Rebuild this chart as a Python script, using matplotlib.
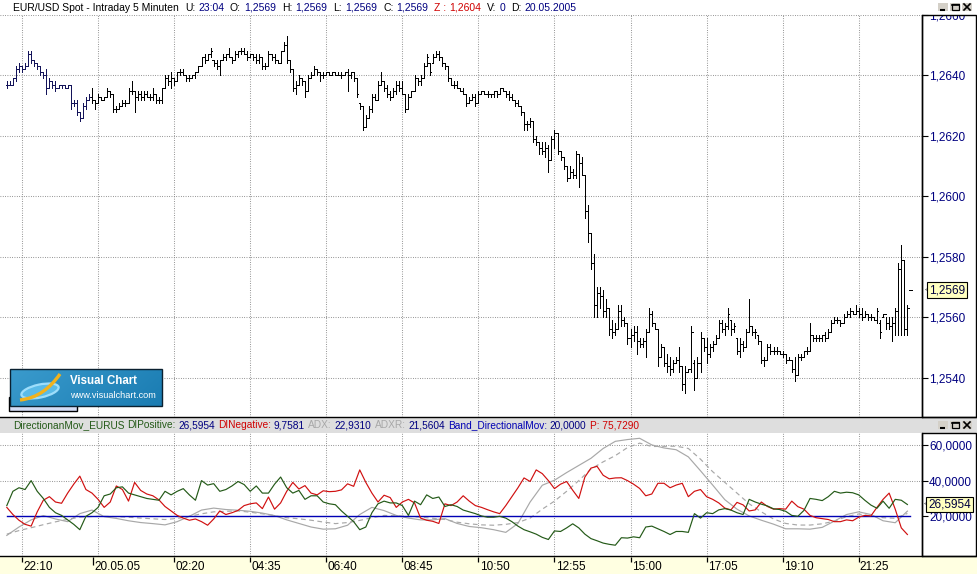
import matplotlib
matplotlib.use('Agg')
import matplotlib.pyplot as plt
import numpy as np
from matplotlib.collections import LineCollection
from matplotlib.patches import Rectangle, Ellipse, PathPatch
from matplotlib.path import Path
import matplotlib.transforms as mtrans

plt.rcParams['font.family'] = ['Liberation Sans', 'DejaVu Sans']

# ---------------- data (prices in pips above 1.2500) ----------------
opens = [137,137,137,139,142,143,142,143,147,145,
 144,143,141,140,136,138,137,136,137,137,
 136,137,131,131,128,126,130,132,133,132,
 131,133,132,133,135,134,129,129,130,131,
 131,135,135,133,134,133,134,133,133,134,
 132,132,136,139,138,139,138,141,141,140,
 139,139,140,141,143,146,145,147,145,144,
 143,145,146,147,146,145,147,148,148,147,
 146,147,146,145,146,143,143,147,146,145,
 144,148,150,145,142,136,137,139,138,135,
 139,140,142,141,140,140,141,140,141,140,
 140,140,141,140,141,139,131,130,123,126,
 129,133,132,137,138,136,134,133,135,137,
 136,134,129,133,135,139,138,139,143,144,
 144,146,147,146,144,143,139,137,137,136,
 135,134,131,132,133,131,134,135,134,134,
 134,135,134,136,135,134,133,132,131,130,
 128,124,124,125,119,118,116,115,116,112,
 119,121,115,113,110,106,108,107,114,111,
 107,95,88,78,64,68,67,62,63,56,
 55,56,62,59,58,53,54,55,52,51,
 52,55,61,58,56,47,50,45,44,43,
 45,46,44,38,42,43,45,40,45,53,
 50,48,50,51,53,58,56,57,59,56,
 53,49,51,50,55,57,55,54,52,46,
 46,50,49,49,49,48,48,46,46,43,
 41,47,47,49,49,54,53,53,53,54,
 53,55,58,59,59,58,60,61,62,61,
 62,61,60,61,60,60,59,58,60,61,
 58,57,58,62,76,79,56,69]
highs = [138,138,139,143,144,143,144,148,148,145,
 144,143,141,142,139,138,138,137,137,137,
 137,137,132,132,128,131,133,134,136,132,
 134,133,133,136,135,134,130,131,132,132,
 136,138,135,135,135,135,135,134,136,134,
 133,136,140,140,141,139,141,142,142,140,
 140,140,141,143,146,147,147,149,145,145,
 145,147,147,149,146,148,148,149,149,148,
 147,147,147,147,146,144,148,147,147,145,
 148,151,153,145,142,138,140,139,138,140,
 141,143,142,141,141,141,141,141,141,141,
 141,141,142,141,141,139,131,130,127,130,
 134,134,138,141,138,137,135,136,138,138,
 138,134,134,135,140,139,140,144,147,144,
 147,148,148,146,144,143,139,138,138,136,
 136,134,133,134,134,135,135,135,135,134,
 135,135,136,136,135,135,134,132,132,130,
 128,125,126,125,120,118,118,118,117,120,
 122,121,115,113,110,110,109,115,114,113,
 107,97,88,81,70,70,69,66,63,59,
 58,64,64,60,58,56,57,57,53,53,
 56,63,62,58,56,51,50,48,47,46,
 47,50,44,44,43,57,46,47,55,53,
 53,51,52,54,59,59,58,63,59,58,
 53,53,52,56,66,57,56,54,52,47,
 51,51,50,50,49,49,48,47,46,47,
 48,48,49,50,58,54,54,54,54,55,
 56,59,60,60,59,61,62,63,62,64,
 63,63,62,61,61,60,63,59,61,60,
 60,60,63,78,84,79,64,69]
lows = [136,137,137,138,141,141,142,143,144,143,
 142,140,139,134,136,136,135,136,136,136,
 136,129,130,127,125,126,129,132,131,129,
 131,132,132,133,133,128,128,129,130,130,
 131,134,128,132,132,132,133,132,132,131,
 131,131,136,137,136,137,138,140,140,138,
 138,139,139,141,143,144,145,146,143,142,
 140,145,145,146,144,145,146,147,147,145,
 146,145,144,144,142,142,143,145,144,144,
 144,148,144,141,135,134,137,137,133,135,
 139,140,140,138,139,140,140,140,140,140,
 139,140,135,139,138,133,129,122,123,126,
 128,132,132,137,135,133,132,133,134,135,
 134,128,129,133,135,137,137,139,143,140,
 144,146,145,143,142,138,137,136,136,135,
 134,130,131,132,130,131,134,134,133,133,
 133,133,134,135,133,132,132,130,130,127,
 122,122,123,118,117,114,114,113,108,112,
 116,114,112,109,105,106,106,106,103,107,
 93,85,76,60,60,63,60,60,54,53,
 54,56,57,57,51,50,52,48,50,50,
 47,55,57,56,44,47,44,42,41,42,
 45,42,36,35,42,42,36,40,42,49,
 45,47,49,51,53,55,54,56,54,55,
 48,47,49,50,55,54,53,51,45,44,
 46,48,48,48,48,47,45,46,42,39,
 41,46,47,48,49,52,52,52,52,52,
 53,55,58,58,57,58,60,60,61,61,
 60,59,60,59,59,59,58,53,60,56,
 56,52,54,54,54,54,54,69]
closes = [137,137,139,142,143,142,143,147,145,144,
 143,141,140,136,138,137,136,137,137,136,
 137,131,131,128,126,130,132,133,132,131,
 133,132,133,135,134,129,129,130,131,131,
 135,135,133,134,133,134,133,133,134,132,
 132,136,139,138,139,138,141,141,140,139,
 139,140,141,143,146,145,147,148,144,143,
 145,146,147,146,145,147,148,148,147,146,
 147,146,145,146,143,143,147,146,145,144,
 148,150,145,142,136,137,139,138,135,139,
 140,142,141,140,140,141,140,141,140,140,
 140,141,140,141,139,134,130,123,126,129,
 133,132,137,138,136,134,133,135,137,136,
 134,129,133,135,139,138,139,143,146,141,
 146,147,146,144,143,139,137,137,136,135,
 134,131,132,133,131,134,135,134,134,134,
 135,134,136,135,134,133,132,131,130,128,
 124,124,125,119,118,116,115,116,112,119,
 121,115,113,110,106,108,107,114,111,107,
 95,88,78,64,68,67,62,63,56,55,
 56,62,59,58,53,54,55,52,51,52,
 55,61,58,56,47,50,45,44,43,45,
 46,44,38,42,43,55,40,45,53,50,
 48,50,51,53,58,56,57,61,56,57,
 49,51,50,55,57,55,55,52,46,46,
 50,49,49,49,48,48,46,46,43,41,
 47,47,49,49,54,53,53,53,54,53,
 55,58,59,59,58,60,61,62,61,62,
 61,60,61,60,60,59,62,55,61,58,
 57,58,62,76,79,56,63,69]

# indicator values (DI every 2nd bar, ADX/ADXR every 4th bar)
di_pos = [26,34,36,35,40,34,30,25,22,20.5,
 18,15.5,12.5,20,22,25,31.5,32.5,36,36.5,
 33,32,31,30,29.5,29,34,32,34,35.5,
 32,29,40,37.5,38.3,34,35,37,39.5,37.8,
 34,37,33,33,38,42,36,33,34.5,29.5,
 31.5,31.5,28,27,26.5,23,20,17,12.5,14,
 22,27,28.5,27.5,27.5,26,20.5,28.5,26.5,32,
 30,30.8,25.5,26.5,25.5,23.5,22.5,21.5,20.2,19.5,
 19.5,20,19,17,14.5,12.5,11.3,10,8.2,7,
 11.8,11.5,13.5,15.8,13.5,10,7.5,6.3,5,4.3,
 3.8,8,7.8,8.5,8,14,14.5,13,11.5,9.8,
 11.5,11.5,11,21.5,19,22,21.5,23.6,24.3,23.5,
 22,21,29.5,28,26.8,25.8,24.2,23.8,22.8,20.5,
 20,23.3,30,29.5,28.8,31,34,33,33.5,33.2,
 32,29,26.3,24.5,28.5,24.5,29.5,29,26.6]
di_neg = [25,21,17.8,15.5,14.5,22.5,29,31,28,27.3,
 33,38,42.5,35,33,29.5,25,28,37,35,
 28.5,39,34.5,32.5,31.5,29.2,25.5,23,20.5,19,
 17.8,18.5,17,15,18.5,23,21,22,23.3,26,
 27,27.5,24.3,30.8,24,27.5,34,39,35.3,37.2,
 33,32,34.3,33.8,34,34.8,38.2,36.8,46,39,
 33,28,31.8,30.5,25,28,29.5,27.5,19,17.8,
 17.2,16,27,26,28,31.5,28.5,26,25,23.7,
 22.5,21.5,26,31,36,41.5,39.5,46,43.9,40,
 35.5,38,39.5,34.6,30,42,47,48,43,41,
 41.5,41.6,40,38,35.6,31.5,32.5,38.5,38.5,36,
 37.5,38.5,31,34,35,31,29.5,27.5,24.6,23.6,
 27.8,26.4,23,23.6,28,25.5,24,24.3,24,28.5,
 25.4,24,20.5,19.2,18.7,18.2,17,17,18,17.5,
 19.5,20.5,20.2,25,29.5,33,24,13.5,9.8]
adx = [9.3,14,18,20.4,18.5,17,21.5,23.5,19.8,18.8,
 17.5,16.5,15.9,15.2,17,20,23.5,24.6,23.8,23.4,
 22.8,21.8,20.4,18,16,14,12.8,13,15,21,
 25,23.2,20.5,19,18,18,18.7,16,14.3,13.6,
 12.5,11,16,28,37.4,40.2,44.5,48.5,52.5,58,
 62,63,63.7,60,58.3,57.3,53.3,45.5,37.5,29.3,
 24,20.2,17.8,15.6,13,13,12.8,13.8,17.3,21,
 22.5,21,17.5,16.4,22.9]
adxr = [10,12,13.6,15.3,16.9,18.3,19.5,19.9,20,19.8,
 19.5,19,18.6,18.2,18.8,20,21.4,22.5,22.8,23,
 22.3,21.4,20.4,19.2,18.6,17.8,16.8,15.9,16.5,17.7,
 19.2,20.5,20.3,20,19.5,18.9,18.2,16.7,15.8,15.2,
 15,15.5,16.5,19,24,28.5,34,40,46.5,50.5,
 54,58.5,61,59.1,59.2,59.3,58,52,45,39,
 33,27,22.5,18.5,16,15.1,15.1,15.8,17.3,19.8,
 21.3,20.2,19.2,18.9,21.6]
band_level = 20.0

time_labels = ['22:10', '20.05.05', '02:20', '04:35', '06:40', '08:45',
               '10:50', '12:55', '15:00', '17:05', '19:10', '21:25']
time_label_bars = [5, 28.3, 55, 80, 105, 130, 155, 180, 205, 230, 255, 280]
grid_bars = [5, 30, 55, 80, 105, 130, 155, 180, 205, 230, 255, 280]
price_ticks = [1.2540, 1.2560, 1.2580, 1.2600, 1.2620, 1.2640, 1.2660]
ind_ticks = [20, 40, 60]
day_start_bar = 28
last_price = 1.2569
last_dip = 26.5954

# ---------------- figure layout ----------------
W, H = 978, 574
fig = plt.figure(figsize=(W / 100, H / 100), dpi=100)
fig.patch.set_facecolor('white')

bg = fig.add_axes([0, 0, 1, 1], zorder=0)
bg.set_xlim(0, W); bg.set_ylim(H, 0); bg.axis('off')
fg = fig.add_axes([0, 0, 1, 1], zorder=10)
fg.set_xlim(0, W); fg.set_ylim(H, 0); fg.axis('off'); fg.patch.set_alpha(0)


def fbox(l, t, r, b):
    return [l / W, 1 - b / H, (r - l) / W, (b - t) / H]


ax = fig.add_axes(fbox(0, 15, 922, 417), zorder=2)
ax2 = fig.add_axes(fbox(0, 433, 922, 556), zorder=2)

NAVY = '#000080'
GRID = '#808080'
DOT = (0, (0.75, 1.5))
XL = (-2.235, 300.8)
PX = 0.72  # one pixel in points

# background decorations
bg.add_patch(Rectangle((0, 417.5), W, 15.5, facecolor='#dedede', edgecolor='none'))
bg.add_patch(Rectangle((0, 556.5), W, 18, facecolor='#ffffe1', edgecolor='none'))
for (l, t, r, b) in [(922, 15, 976, 417), (922, 433, 976, 556)]:
    bg.add_patch(Rectangle((l, t), r - l, b - t, facecolor='white',
                           edgecolor='black', lw=1.0))
bg.plot([0, 976], [417, 417], color='black', lw=1.0)
bg.plot([0, 976], [556, 556], color='black', lw=1.0)

for a in (ax, ax2):
    a.set_facecolor('none')
    for s in ('top', 'left', 'bottom'):
        a.spines[s].set_visible(False)
    a.spines['right'].set_color('black')
    a.spines['right'].set_linewidth(1.0)
    a.set_xlim(*XL)
    a.set_xticks([])
    a.yaxis.tick_right()
    a.tick_params(axis='y', direction='out', length=4, width=0.8,
                  colors='black', labelcolor=NAVY, labelsize=8.5, pad=1)
    for gb in grid_bars:
        a.axvline(gb, color=GRID, lw=0.75, linestyle=DOT, zorder=1)

# ---------------- price pane ----------------
p_low = 1.25 + 27.0 / 10000
p_high = 1.25 + 159.7 / 10000
ax.set_ylim(p_low, p_high)
ax.set_yticks(price_ticks)
ax.set_yticklabels([('%.4f' % v).replace('.', ',') for v in price_ticks])
for v in price_ticks:
    ax.axhline(v, color=GRID, lw=0.75, linestyle=DOT, zorder=1)
# the top label is cut by the frame of the axis box
clip_bb = mtrans.Bbox.from_extents(922, H - 417, 976, H - 15.5)
for lab in ax.get_yticklabels():
    lab.set_clip_box(clip_bb)
    lab.set_clip_on(True)

O = 1.25 + np.array(opens) / 10000.0
Hh = 1.25 + np.array(highs) / 10000.0
L = 1.25 + np.array(lows) / 10000.0
C = 1.25 + np.array(closes) / 10000.0
N = len(C)
tk = 0.4
segs, cols = [], []
for i in range(N):
    col = '#14145a' if i < day_start_bar else 'black'
    if Hh[i] > L[i]:
        segs.append([(i, L[i]), (i, Hh[i])]); cols.append(col)
    segs.append([(i - tk, O[i]), (i, O[i])]); cols.append(col)
    segs.append([(i, C[i]), (i + tk, C[i])]); cols.append(col)
ax.add_collection(LineCollection(segs, colors=cols, linewidths=PX,
                                 antialiased=False, zorder=3))

ax.text(929 / 922, last_price, ('%.4f' % last_price).replace('.', ','),
        transform=mtrans.blended_transform_factory(ax.transAxes, ax.transData),
        fontsize=8.5, color='#000040', va='center', ha='left', zorder=5,
        bbox=dict(boxstyle='square,pad=0.15', facecolor='#ffffc0',
                  edgecolor='black', lw=0.8), clip_on=False)
ax.text(924.5 / 922, last_price, '<', fontsize=5.5, color='#404040',
        transform=mtrans.blended_transform_factory(ax.transAxes, ax.transData),
        va='center', ha='left', clip_on=False)

# ---------------- indicator pane ----------------
ax2.set_ylim(-2.24, 66.67)
ax2.set_yticks(ind_ticks)
ax2.set_yticklabels([('%.4f' % v).replace('.', ',') for v in ind_ticks])
for v in ind_ticks[1:]:
    ax2.axhline(v, color=GRID, lw=0.75, linestyle=DOT, zorder=1)

x_di = np.arange(0, N, 2)[:len(di_pos)]
x_ad = np.arange(0, N, 4)[:len(adx)]
ax2.plot(x_ad, adx, color='#a8a8a8', lw=0.85, zorder=3)
ax2.plot(x_ad, adxr, color='#a8a8a8', lw=0.85, linestyle=(0, (4, 3)), zorder=3)
ax2.plot([0, N - 1], [band_level, band_level], color='#0000b4', lw=1.0, zorder=4)
ax2.plot(x_di, di_neg, color='#d01010', lw=0.85, zorder=5)
ax2.plot(x_di, di_pos, color='#245a18', lw=0.85, zorder=6)

ax2.text(928 / 922, last_dip, ('%.4f' % last_dip).replace('.', ','),
         transform=mtrans.blended_transform_factory(ax2.transAxes, ax2.transData),
         fontsize=8.5, color='#000040', va='center', ha='left', zorder=7,
         bbox=dict(boxstyle='square,pad=0.15', facecolor='#ffffc0',
                   edgecolor='black', lw=0.8), clip_on=False)
ax2.text(924 / 922, last_dip, '<', fontsize=5.5, color='#404040',
         transform=mtrans.blended_transform_factory(ax2.transAxes, ax2.transData),
         va='center', ha='left', clip_on=False)

# x-axis ticks in the bottom band
tb = mtrans.blended_transform_factory(ax2.transData, bg.transData)
for lab, b in zip(time_labels, time_label_bars):
    tall = '.' in lab
    bg.plot([b, b], [556.5, 565 if tall else 561.5], color='black', lw=0.9,
            transform=tb, solid_capstyle='butt')
    bg.text(b + 0.4, 567, lab, transform=tb, fontsize=8.5, color='black',
            ha='left', va='center')

# ---------------- header texts ----------------
renderer = fig.canvas.get_renderer()


def write_pieces(x, y, pieces, size):
    for s, c, gap in pieces:
        t = fg.text(x, y, s, color=c, fontsize=size, va='center', ha='left')
        bb = t.get_window_extent(renderer=renderer)
        x += bb.width + gap


BLK = 'black'
RED = '#d00000'
write_pieces(13, 8, [
    ('EUR/USD Spot - Intraday 5 Minuten', BLK, 6), ('U:', BLK, 3), ('23:04', NAVY, 6),
    ('O:', BLK, 3), ('1,2569', NAVY, 6), ('H:', BLK, 3), ('1,2569', NAVY, 6),
    ('L:', BLK, 3), ('1,2569', NAVY, 6), ('C:', BLK, 3), ('1,2569', NAVY, 6),
    ('Z :', RED, 3), ('1,2604', RED, 6), ('V:', BLK, 3), ('0', NAVY, 6),
    ('D:', BLK, 3), ('20.05.2005', NAVY, 0)], 7.5)

GRN = '#245a18'
write_pieces(13, 425.5, [
    ('DirectionanMov_EURUS', GRN, 3), ('DIPositive:', GRN, 2.5), ('26,5954', NAVY, 3),
    ('DINegative:', RED, 2.5), ('9,7581', NAVY, 3.5), ('ADX:', '#a8a8a8', 2.5),
    ('22,9310', NAVY, 3.5), ('ADXR:', '#a8a8a8', 2.5), ('21,5604', NAVY, 3.5),
    ('Band_DirectionalMov:', '#0000b4', 2.5), ('20,0000', NAVY, 3.5),
    ('P: 75,7290', RED, 0)], 7.3)


# window buttons
def buttons(x0, y0):
    for k, kind in enumerate(['min', 'max', 'close']):
        bx = x0 + k * 12
        fg.add_patch(Rectangle((bx, y0), 10, 8, facecolor='#d4d0c8', edgecolor='none'))
        if kind == 'min':
            fg.plot([bx + 2, bx + 7], [y0 + 6.5, y0 + 6.5], color='black', lw=1.5,
                    solid_capstyle='butt')
        elif kind == 'max':
            fg.add_patch(Rectangle((bx + 1.5, y0 + 1), 7, 6, facecolor='none',
                                   edgecolor='black', lw=0.9))
            fg.plot([bx + 1.5, bx + 8.5], [y0 + 1.5, y0 + 1.5], color='black', lw=1.2)
        else:
            fg.plot([bx + 2, bx + 8], [y0 + 1, y0 + 7], color='black', lw=1.2)
            fg.plot([bx + 2, bx + 8], [y0 + 7, y0 + 1], color='black', lw=1.2)


buttons(938, 3)
buttons(938, 421)

# ---------------- logo ----------------
fg.add_patch(Rectangle((9, 397), 68, 14, facecolor='#d4dcf4', edgecolor='black', lw=1))
gx = np.linspace(0, 1, 152)
gy = np.linspace(0, 1, 37)
GX, GY = np.meshgrid(gx, gy)
c0 = np.array([0x48, 0xa8, 0xd8]) / 255.0
c1 = np.array([0x1a, 0x7c, 0xb2]) / 255.0
tmix = np.clip(0.35 + 0.65 * GX, 0, 1)[..., None] * 0.85 + 0.15 * GY[..., None]
img = c0 * (1 - tmix) + c1 * tmix
fg.imshow(img, extent=(10, 162, 406, 369), aspect='auto', zorder=11,
          interpolation='bilinear')
fg.add_patch(Rectangle((10, 369), 152, 37, facecolor='none', edgecolor='#0a2030',
                       lw=1.0, zorder=12))
fg.add_patch(Ellipse((40, 391), 38, 13, angle=-12, facecolor='#5fc0ec',
                     edgecolor='#a8e4ff', lw=1.6, zorder=12, alpha=0.9))
sw = Path([(20, 400), (38, 398), (50, 388), (60, 374)],
          [Path.MOVETO, Path.CURVE4, Path.CURVE4, Path.CURVE4])
fg.add_patch(PathPatch(sw, facecolor='none', edgecolor='#f2b21c', lw=2.4, zorder=13))
fg.text(70, 381.5, 'Visual Chart', color='white', fontsize=8.3, fontweight='bold',
        va='center', ha='left', zorder=14)
fg.text(70, 395, 'www.visualchart.com', color='white', fontsize=6.6,
        va='center', ha='left', zorder=14)

fig.savefig('out.png', dpi=100, facecolor='white')
